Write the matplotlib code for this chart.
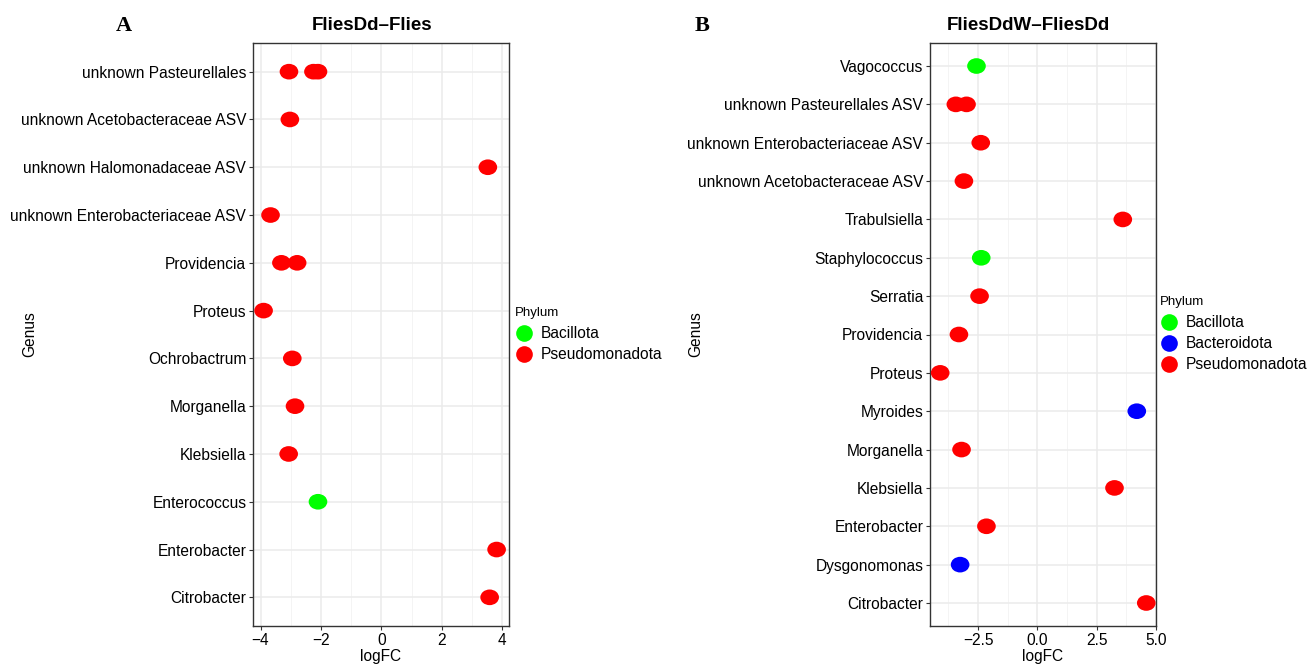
import matplotlib
matplotlib.use("Agg")
import matplotlib.pyplot as plt
from matplotlib.lines import Line2D
from matplotlib.path import Path
from matplotlib.transforms import Affine2D
from matplotlib.ticker import MultipleLocator, FuncFormatter

plt.rcParams['font.family'] = ['Liberation Sans', 'DejaVu Sans']

# panel A: FliesDd-Flies
genus_levels_a = ['Citrobacter', 'Enterobacter', 'Enterococcus', 'Klebsiella', 'Morganella',
                  'Ochrobactrum', 'Proteus', 'Providencia', 'unknown Enterobacteriaceae ASV',
                  'unknown Halomonadaceae ASV', 'unknown Acetobacteraceae ASV',
                  'unknown Pasteurellales']
genus_a = ['Citrobacter', 'Enterobacter', 'Enterococcus', 'Klebsiella', 'Morganella',
           'Ochrobactrum', 'Proteus', 'Providencia', 'Providencia',
           'unknown Enterobacteriaceae ASV', 'unknown Halomonadaceae ASV',
           'unknown Acetobacteraceae ASV', 'unknown Pasteurellales',
           'unknown Pasteurellales', 'unknown Pasteurellales']
logfc_a = [3.58, 3.81, -2.10, -3.07, -2.86, -2.95, -3.90, -3.31, -2.79,
           -3.67, 3.52, -3.03, -3.06, -2.25, -2.10]
phylum_a = ['Pseudomonadota', 'Pseudomonadota', 'Bacillota', 'Pseudomonadota',
            'Pseudomonadota', 'Pseudomonadota', 'Pseudomonadota', 'Pseudomonadota',
            'Pseudomonadota', 'Pseudomonadota', 'Pseudomonadota', 'Pseudomonadota',
            'Pseudomonadota', 'Pseudomonadota', 'Pseudomonadota']

# panel B: FliesDdW-FliesDd
genus_levels_b = ['Citrobacter', 'Dysgonomonas', 'Enterobacter', 'Klebsiella', 'Morganella',
                  'Myroides', 'Proteus', 'Providencia', 'Serratia', 'Staphylococcus',
                  'Trabulsiella', 'unknown Acetobacteraceae ASV',
                  'unknown Enterobacteriaceae ASV', 'unknown Pasteurellales ASV',
                  'Vagococcus']
genus_b = ['Citrobacter', 'Dysgonomonas', 'Enterobacter', 'Klebsiella', 'Morganella',
           'Myroides', 'Proteus', 'Providencia', 'Serratia', 'Staphylococcus',
           'Trabulsiella', 'unknown Acetobacteraceae ASV', 'unknown Enterobacteriaceae ASV',
           'unknown Pasteurellales ASV', 'unknown Pasteurellales ASV', 'Vagococcus']
logfc_b = [4.59, -3.26, -2.15, 3.25, -3.20, 4.19, -4.10, -3.31, -2.44, -2.37,
           3.60, -3.10, -2.39, -3.44, -2.99, -2.57]
phylum_b = ['Pseudomonadota', 'Bacteroidota', 'Pseudomonadota', 'Pseudomonadota',
            'Pseudomonadota', 'Bacteroidota', 'Pseudomonadota', 'Pseudomonadota',
            'Pseudomonadota', 'Bacillota', 'Pseudomonadota', 'Pseudomonadota',
            'Pseudomonadota', 'Pseudomonadota', 'Pseudomonadota', 'Bacillota']

colors = {'Bacillota': '#00FF00', 'Bacteroidota': '#0000FF', 'Pseudomonadota': '#FF0000'}

W, H = 1311, 664
fig = plt.figure(figsize=(W / 100, H / 100), dpi=100)

# dots look slightly wider than tall in the reference
ellipse = Path.unit_circle().transformed(Affine2D().scale(1.0, 0.84))


def panel(left, right, levels, genus, logfc, phylum, xlim, major, minor):
    ax = fig.add_axes([left / W, 1 - 626 / H, (right - left) / W, 583 / H])
    ypos = [levels.index(g) for g in genus]
    ax.scatter(logfc, ypos, s=180, marker=ellipse, c=[colors[p] for p in phylum],
               linewidths=0, zorder=3)
    ax.set_yticks(range(len(levels)))
    ax.set_yticklabels(levels)
    ax.set_ylim(-0.6, len(levels) - 0.4)
    ax.set_xlim(*xlim)
    ax.xaxis.set_major_locator(MultipleLocator(major))
    ax.xaxis.set_minor_locator(MultipleLocator(minor))
    ax.grid(True, which='major', color='#EBEBEB', lw=1.1, zorder=0)
    ax.grid(True, which='minor', axis='x', color='#F2F2F2', lw=0.6, zorder=0)
    ax.set_axisbelow(True)
    for sp in ax.spines.values():
        sp.set_color('#333333')
        sp.set_linewidth(1.0)
    ax.tick_params(which='major', length=2.8, width=0.8, color='#333333',
                   labelsize=11.2, labelcolor='#000000', pad=2)
    ax.tick_params(which='minor', length=0)
    return ax


ax_a = panel(253, 509, genus_levels_a, genus_a, logfc_a, phylum_a, (-4.25, 4.22), 2, 1)
ax_b = panel(930, 1156, genus_levels_b, genus_b, logfc_b, phylum_b, (-4.53, 5.0), 2.5, 1.25)
ax_b.xaxis.set_major_formatter(FuncFormatter(lambda v, p: f'{v:.1f}'.replace('-', '\u2212')))

# titles, panel letters, axis titles
fig.text(372 / W, 1 - 26 / H, 'FliesDd\u2013Flies', ha='center', va='center',
         fontsize=13.5, fontweight='bold')
fig.text(1028 / W, 1 - 26 / H, 'FliesDdW\u2013FliesDd', ha='center', va='center',
         fontsize=13.5, fontweight='bold')
fig.text(124 / W, 1 - 26 / H, 'A', ha='center', va='center', fontsize=16,
         fontweight='bold', family=['Liberation Serif', 'DejaVu Serif'])
fig.text(702 / W, 1 - 26 / H, 'B', ha='center', va='center', fontsize=16,
         fontweight='bold', family=['Liberation Serif', 'DejaVu Serif'])
for x, y in [(30, 334), (696, 334)]:
    fig.text(x / W, 1 - y / H, 'Genus', rotation=90, ha='center', va='center', fontsize=11.2)
for x in [381, 1043]:
    fig.text(x / W, 1 - 657 / H, 'logFC', ha='center', va='center', fontsize=11.2)


def legend(names, x, y):
    handles = [Line2D([], [], ls='none', marker='o', ms=12, mew=0,
                      mfc=colors[n], label=n) for n in names]
    leg = fig.legend(handles=handles, loc='upper left', bbox_to_anchor=(x / W, 1 - y / H),
                     frameon=False, title='Phylum', fontsize=11.2, title_fontsize=9.5,
                     borderpad=0, handlelength=1.1, handletextpad=0.55,
                     labelspacing=0.4, borderaxespad=0)
    leg._legend_box.align = 'left'
    leg._legend_box.sep = 5


legend(['Bacillota', 'Pseudomonadota'], 515, 307)
legend(['Bacillota', 'Bacteroidota', 'Pseudomonadota'], 1160, 296)

fig.savefig('out.png', dpi=100)
